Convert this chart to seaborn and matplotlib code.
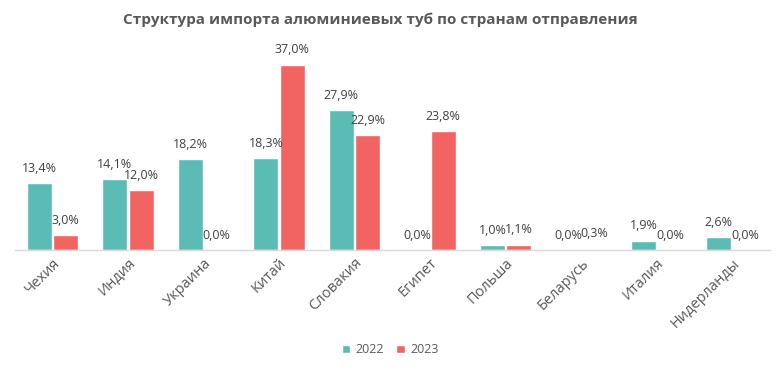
import pandas as pd
import matplotlib.pyplot as plt
import seaborn as sns

# --- DATA ---
countries = ['Чехия', 'Индия', 'Украина', 'Китай', 'Словакия', 'Египет',
             'Польша', 'Беларусь', 'Италия', 'Нидерланды']
share_2022 = [13.4, 14.1, 18.2, 18.3, 27.9, 0.0, 1.0, 0.0, 1.9, 2.6]
share_2023 = [3.0, 12.0, 0.0, 37.0, 22.9, 23.8, 1.1, 0.3, 0.0, 0.0]
years = ['2022', '2023']
colors = ['#5BBCB6', '#F26462']

df = pd.DataFrame({
    'country': countries * 2,
    'year': [years[0]] * len(countries) + [years[1]] * len(countries),
    'share': share_2022 + share_2023,
})

sns.set_theme(style='white')
plt.rcParams['font.family'] = ['Open Sans', 'DejaVu Sans']

fig = plt.figure(figsize=(7.8, 3.71), dpi=100)
ax = fig.add_axes([0.019, 0.326, 0.968, 0.54])

sns.barplot(data=df, x='country', y='share', hue='year', palette=colors,
            width=0.7, gap=0.05, saturation=1, ax=ax, legend=True)

# value labels
for cont in ax.containers:
    labels = [f'{v:.1f}%'.replace('.', ',') for v in cont.datavalues]
    ax.bar_label(cont, labels=labels, padding=6, fontsize=9, color='#404040')

ax.set_ylim(0, 40)
ax.set_xlim(-0.5, len(countries) - 0.5)
ax.set_xlabel('')
ax.set_ylabel('')
ax.set_yticks([])
for side in ['top', 'right', 'left']:
    ax.spines[side].set_visible(False)
ax.spines['bottom'].set_color('#D9D9D9')
ax.spines['bottom'].set_linewidth(1)
ax.tick_params(axis='x', length=0, pad=4)
plt.setp(ax.get_xticklabels(), rotation=45, ha='right', rotation_mode='anchor',
         fontsize=10.5, color='#595959')

handles, lbls = ax.get_legend_handles_labels()
ax.legend_.remove()
fig.legend(handles, lbls, loc='center', bbox_to_anchor=(0.5, 0.057), ncol=2,
           frameon=False, fontsize=9, handlelength=0.7, handleheight=0.7,
           handletextpad=0.4, columnspacing=1.0, labelcolor='#595959')

fig.suptitle('Структура импорта алюминиевых туб по странам отправления',
             x=0.487, y=0.965, fontsize=11, color='#595959', fontweight='bold')

fig.savefig('out.png', dpi=100)
